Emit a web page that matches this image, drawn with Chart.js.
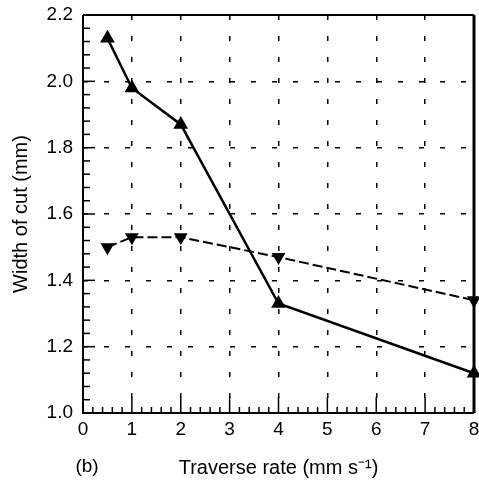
<!DOCTYPE html>
<html>
<head>
<meta charset="utf-8">
<script src="https://cdn.jsdelivr.net/npm/chart.js@4/dist/chart.umd.min.js"></script>
<style>
  html, body { margin: 0; padding: 0; background: #fff; }
  #wrap { width: 479px; height: 480px; position: relative; }
</style>
</head>
<body>
<div id="wrap"><canvas id="cutChart"></canvas></div>
<script>
// Traverse rate (mm/s) and measured width of cut (mm)
const traverseRates = [0.5, 1, 2, 4, 8];
const widthSolid = [2.13, 1.98, 1.87, 1.33, 1.12];
const widthDashed = [1.50, 1.53, 1.53, 1.47, 1.34];
const xTicks = [0, 1, 2, 3, 4, 5, 6, 7, 8];
const yTicks = [1.0, 1.2, 1.4, 1.6, 1.8, 2.0, 2.2];

const FONT = "'Liberation Sans', Arial, sans-serif";

// Frame, inward minor ticks and the panel letter
const framePlugin = {
    id: 'frame',
    afterDraw(chart) {
        const ctx = chart.ctx;
        const a = chart.chartArea;
        const xs = chart.scales.x;
        const ys = chart.scales.y;
        ctx.save();
        ctx.strokeStyle = '#000';
        ctx.setLineDash([]);

        // x ticks every 0.2, long on whole numbers
        ctx.lineWidth = 1.5;
        for (let i = 0; i <= 40; i++) {
            const px = xs.getPixelForValue(i / 5);
            const len = i % 5 === 0 ? 16 : 6;
            ctx.beginPath();
            ctx.moveTo(px, a.bottom);
            ctx.lineTo(px, a.bottom - len);
            ctx.stroke();
        }
        // y ticks every 0.04
        for (let i = 0; i <= 30; i++) {
            const py = ys.getPixelForValue(1 + i * 0.04);
            const len = i % 5 === 0 ? 12 : 7;
            ctx.beginPath();
            ctx.moveTo(a.left, py);
            ctx.lineTo(a.left + len, py);
            ctx.stroke();
        }

        ctx.lineWidth = 2;
        ctx.beginPath();
        ctx.moveTo(a.left, a.top);
        ctx.lineTo(a.right, a.top);
        ctx.moveTo(a.left, a.top);
        ctx.lineTo(a.left, a.bottom);
        ctx.lineTo(a.right, a.bottom);
        ctx.stroke();
        ctx.lineWidth = 3;
        ctx.beginPath();
        ctx.moveTo(a.right, a.top);
        ctx.lineTo(a.right, a.bottom);
        ctx.stroke();

        ctx.fillStyle = '#000';
        ctx.font = '19px ' + FONT;
        ctx.textAlign = 'center';
        ctx.textBaseline = 'middle';
        ctx.fillText('(b)', a.left + 4, 467);
        ctx.restore();
    }
};

new Chart(document.getElementById('cutChart'), {
    type: 'line',
    data: {
        datasets: [{
            data: traverseRates.map((x, i) => ({ x: x, y: widthSolid[i] })),
            borderColor: '#000',
            backgroundColor: '#000',
            borderWidth: 2.5,
            pointStyle: 'triangle',
            pointRadius: 6,
            clip: false,
            tension: 0
        }, {
            data: traverseRates.map((x, i) => ({ x: x, y: widthDashed[i] })),
            borderColor: '#000',
            backgroundColor: '#000',
            borderWidth: 2,
            borderDash: [10, 4],
            pointStyle: 'triangle',
            pointRotation: 180,
            pointRadius: 6,
            clip: false,
            tension: 0
        }]
    },
    options: {
        responsive: true,
        maintainAspectRatio: false,
        animation: false,
        layout: { autoPadding: false, padding: { top: 15, right: 5, left: 0, bottom: 0 } },
        plugins: {
            legend: { display: false },
            tooltip: { enabled: false }
        },
        scales: {
            x: {
                type: 'linear',
                min: 0,
                max: 8,
                afterBuildTicks: s => { s.ticks = xTicks.map(v => ({ value: v })); },
                afterFit: s => { s.height = 67; s.paddingRight = 0; s.paddingLeft = 0; },
                grid: { color: '#000', lineWidth: 1.5, drawTicks: false },
                border: { display: false, dash: [5, 16] },
                ticks: {
                    color: '#000',
                    padding: 5,
                    font: { family: FONT, size: 19 }
                },
                title: {
                    display: true,
                    text: 'Traverse rate (mm s\u207B\u00B9)',
                    color: '#000',
                    font: { family: FONT, size: 20 },
                    padding: { top: 5, bottom: 0 }
                }
            },
            y: {
                min: 1.0,
                max: 2.2,
                afterBuildTicks: s => { s.ticks = yTicks.map(v => ({ value: v })); },
                afterFit: s => { s.width = 83; s.paddingTop = 0; s.paddingBottom = 0; },
                grid: { color: '#000', lineWidth: 1.5, drawTicks: false },
                border: { display: false, dash: [5, 16] },
                ticks: {
                    color: '#000',
                    padding: 10,
                    font: { family: FONT, size: 19 },
                    callback: v => Number(v).toFixed(1)
                },
                title: {
                    display: true,
                    text: 'Width of cut (mm)',
                    color: '#000',
                    font: { family: FONT, size: 20 },
                    padding: { top: 9, bottom: 0 }
                }
            }
        }
    },
    plugins: [framePlugin]
});
</script>
</body>
</html>
